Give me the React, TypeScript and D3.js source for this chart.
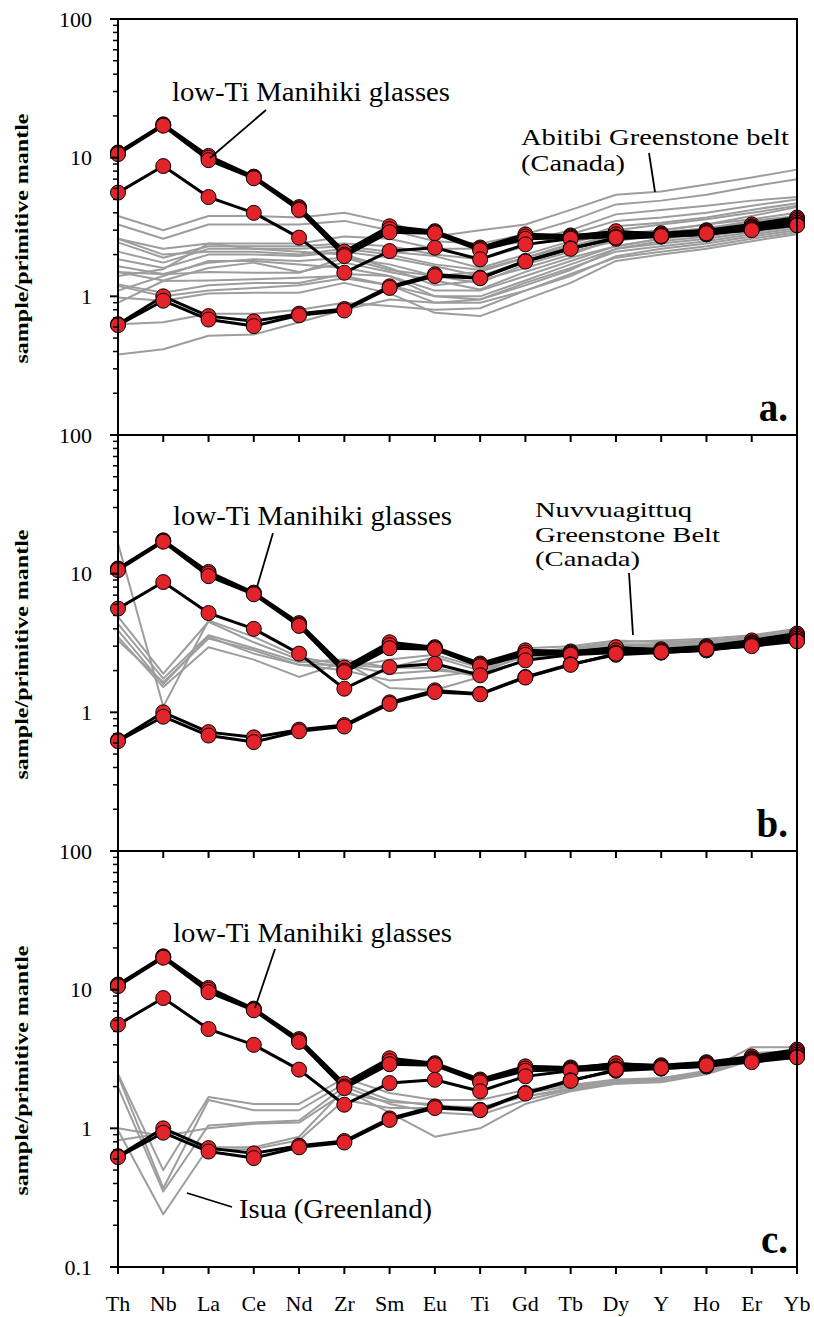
import React from "react";
import * as d3 from "d3";

// ---------- data ----------
const elements = ["Th", "Nb", "La", "Ce", "Nd", "Zr", "Sm", "Eu", "Ti", "Gd", "Tb", "Dy", "Y", "Ho", "Er", "Yb"];

// low-Ti Manihiki glasses (same in all panels)
const manihiki1 = [10.9, 17.4, 10.3, 7.3, 4.4, 2.1, 3.2, 2.95, 2.25, 2.8, 2.75, 2.9, 2.85, 3.0, 3.3, 3.7];
const manihiki2 = [10.8, 17.2, 10.0, 7.2, 4.3, 2.0, 3.05, 2.9, 2.2, 2.7, 2.7, 2.95, 2.8, 2.95, 3.2, 3.6];
const manihiki3 = [10.6, 17.0, 9.6, 7.1, 4.2, 1.95, 2.9, 2.85, 2.15, 2.6, 2.65, 2.8, 2.75, 2.9, 3.15, 3.5];
const manihiki4 = [5.6, 8.7, 5.2, 4.0, 2.65, 1.48, 2.12, 2.24, 1.85, 2.37, 2.6, 2.7, 2.7, 2.8, 3.1, 3.4];
const manihiki5 = [0.63, 1.0, 0.72, 0.66, 0.75, 0.81, 1.18, 1.44, 1.36, 1.8, 2.22, 2.6, 2.7, 2.8, 3.05, 3.3];
const manihiki6 = [0.62, 0.93, 0.68, 0.61, 0.73, 0.79, 1.15, 1.4, 1.35, 1.78, 2.2, 2.65, 2.72, 2.85, 3.0, 3.25];
const manihiki = [manihiki1, manihiki2, manihiki3, manihiki4, manihiki5, manihiki6];

// Abitibi Greenstone belt (Canada)
const abitibi1 = [3.8, 3.0, 3.8, 3.8, 3.7, 4.0, 3.4, 2.7, 3.0, 3.3, 4.2, 5.4, 5.7, 6.4, 7.2, 8.2];
const abitibi2 = [3.3, 2.6, 3.3, 3.3, 3.3, 3.5, 3.0, 2.5, 2.4, 2.8, 3.5, 4.6, 4.9, 5.4, 6.2, 7.0];
const abitibi3 = [2.6, 2.2, 2.4, 2.4, 2.4, 2.7, 2.6, 2.2, 2.2, 2.5, 3.0, 3.9, 4.2, 4.5, 4.9, 5.2];
const abitibi4 = [2.45, 1.9, 2.3, 2.3, 2.3, 2.4, 2.3, 2.0, 1.85, 2.3, 2.8, 3.5, 3.7, 4.0, 4.5, 5.0];
const abitibi5 = [2.1, 1.75, 2.2, 2.2, 2.2, 2.3, 2.1, 1.95, 1.6, 2.0, 2.5, 3.2, 3.4, 3.7, 4.2, 4.7];
const abitibi6 = [1.85, 1.6, 2.0, 2.0, 1.95, 2.1, 1.9, 1.65, 1.4, 1.8, 2.3, 2.7, 3.0, 3.3, 3.8, 4.4];
const abitibi7 = [1.65, 1.45, 1.75, 1.85, 1.8, 1.9, 1.7, 1.4, 1.25, 1.7, 2.1, 2.5, 2.8, 3.1, 3.5, 3.8];
const abitibi8 = [1.5, 1.3, 1.6, 1.75, 1.5, 1.75, 1.5, 1.3, 1.12, 1.5, 1.9, 2.3, 2.6, 2.9, 3.2, 3.5];
const abitibi9 = [1.4, 1.57, 2.4, 2.2, 2.1, 2.0, 1.6, 1.2, 1.3, 1.6, 2.0, 2.6, 2.9, 3.1, 3.4, 3.7];
const abitibi10 = [1.22, 1.06, 1.2, 1.25, 1.25, 1.45, 1.4, 1.0, 0.95, 1.2, 1.55, 2.2, 2.5, 2.7, 3.0, 3.3];
const abitibi11 = [1.19, 1.0, 1.1, 1.15, 1.2, 1.35, 1.2, 0.9, 0.9, 1.1, 1.4, 1.95, 2.2, 2.4, 2.7, 3.0];
const abitibi12 = [0.98, 0.93, 1.05, 1.06, 1.06, 1.25, 1.05, 0.76, 0.72, 0.95, 1.25, 1.8, 2.0, 2.2, 2.5, 2.8];
const abitibi13 = [0.9, 1.29, 1.3, 1.33, 1.36, 1.4, 1.2, 1.0, 1.0, 1.3, 1.7, 2.2, 2.4, 2.6, 2.9, 3.2];
const abitibi14 = [0.38, 0.415, 0.52, 0.53, 0.65, 0.8, 0.95, 0.9, 0.95, 1.25, 1.6, 2.1, 2.3, 2.5, 2.8, 3.1];
const abitibi15 = [2.6, 2.0, 2.1, 2.1, 2.0, 2.2, 2.0, 1.7, 1.55, 1.9, 2.4, 3.0, 3.3, 3.6, 4.0, 4.5];
const abitibi16 = [1.5, 1.44, 1.5, 1.48, 1.48, 1.9, 1.55, 1.4, 1.5, 1.9, 2.3, 2.8, 3.0, 3.3, 3.6, 4.0];
const abitibi17 = [0.63, 0.65, 0.75, 0.75, 0.8, 0.9, 0.85, 0.8, 0.82, 1.1, 1.45, 1.9, 2.1, 2.3, 2.6, 2.9];
const abitibi18 = [1.1, 1.4, 1.8, 1.8, 1.7, 1.6, 1.4, 1.1, 1.1, 1.4, 1.8, 2.3, 2.6, 2.8, 3.1, 3.5];
const abitibi = [abitibi1, abitibi2, abitibi3, abitibi4, abitibi5, abitibi6, abitibi7, abitibi8, abitibi9,
  abitibi10, abitibi11, abitibi12, abitibi13, abitibi14, abitibi15, abitibi16, abitibi17, abitibi18];

// Nuvvuagittuq Greenstone Belt (Canada)
const nuvvu1 = [16.5, 1.1, 4.6, 3.5, 2.5, 2.2, 2.1, 2.5, 2.0, 2.7, 2.9, 3.2, 3.3, 3.4, 3.6, 4.0];
const nuvvu2 = [4.9, 1.9, 4.5, 3.2, 2.4, 2.1, 2.4, 2.6, 2.1, 2.9, 3.0, 3.3, 3.2, 3.3, 3.5, 3.9];
const nuvvu3 = [4.35, 1.75, 3.6, 2.9, 2.3, 2.4, 2.1, 2.1, 1.8, 2.4, 2.8, 3.0, 3.1, 3.2, 3.5, 3.8];
const nuvvu4 = [3.9, 1.6, 3.5, 2.65, 2.2, 2.0, 1.7, 1.8, 2.0, 2.5, 2.7, 2.9, 3.0, 3.1, 3.4, 3.7];
const nuvvu5 = [3.5, 1.52, 2.95, 2.4, 1.8, 2.3, 1.5, 1.45, 1.8, 2.4, 2.7, 2.9, 3.0, 3.1, 3.3, 3.6];
const nuvvu6 = [3.3, 1.65, 3.4, 2.8, 2.2, 2.2, 1.9, 2.0, 1.9, 2.6, 2.85, 3.1, 3.1, 3.2, 3.5, 3.9];
const nuvvuagittuq = [nuvvu1, nuvvu2, nuvvu3, nuvvu4, nuvvu5, nuvvu6];

// Isua (Greenland)
const isua1 = [2.47, 0.5, 1.68, 1.5, 1.5, 2.3, 1.8, 1.6, 1.6, 1.9, 2.05, 2.25, 2.3, 2.6, 3.85, 3.85];
const isua2 = [2.4, 0.37, 1.6, 1.35, 1.35, 2.1, 1.6, 1.45, 1.42, 1.7, 1.95, 2.2, 2.25, 2.5, 3.45, 3.3];
const isua3 = [1.98, 0.35, 1.05, 1.1, 1.14, 2.0, 1.5, 1.3, 1.25, 1.6, 1.9, 2.1, 2.15, 2.45, 3.1, 3.2];
const isua4 = [0.97, 0.24, 0.73, 0.73, 0.87, 1.9, 1.3, 0.87, 1.0, 1.5, 1.85, 2.1, 2.2, 2.5, 3.2, 3.3];
const isua5 = [0.82, 0.92, 0.7, 0.71, 0.82, 1.6, 1.4, 1.4, 1.4, 1.7, 1.9, 2.15, 2.2, 2.5, 3.3, 3.4];
const isua6 = [1.0, 0.88, 1.0, 1.08, 1.1, 1.8, 1.55, 1.5, 1.3, 1.8, 2.0, 2.2, 2.3, 2.55, 3.5, 3.6];
const isua = [isua1, isua2, isua3, isua4, isua5, isua6];

const yTicksAB = [100, 10, 1];
const yTicksC = [100, 10, 1, 0.1];

// ---------- layout ----------
const W = 814;
const H = 1317;
const LEFT = 118;
const RIGHT = 797;
const PANEL_H = 416;
const SERIF = "'Liberation Serif','Times New Roman',serif";
const RED = "#e3232a";
const GREY = "#9d9d9d";

type Ann = { lines: string[]; widths: number[]; fs: number; x: number; y: number; lh: number; leader: [number, number, number, number] };
type Panel = { top: number; grey: number[][]; letter: string; ticks: number[]; anns: Ann[] };

const panels: Panel[] = [
  {
    top: 19, grey: abitibi, letter: "a.", ticks: yTicksAB,
    anns: [
      { lines: ["low-Ti Manihiki glasses"], widths: [278], fs: 28, x: 172, y: 101, lh: 0, leader: [266, 110, 210, 158] },
      { lines: ["Abitibi Greenstone belt", "(Canada)"], widths: [268, 104], fs: 23, x: 521, y: 145, lh: 25.5, leader: [649, 153, 655, 192] },
    ],
  },
  {
    top: 435, grey: nuvvuagittuq, letter: "b.", ticks: yTicksAB,
    anns: [
      { lines: ["low-Ti Manihiki glasses"], widths: [279], fs: 28, x: 173, y: 525, lh: 0, leader: [273, 533, 257, 587] },
      { lines: ["Nuvvuagittuq", "Greenstone Belt", "(Canada)"], widths: [157, 185, 105], fs: 22, x: 535, y: 517, lh: 24.5, leader: [629, 573, 633, 635] },
    ],
  },
  {
    top: 851, grey: isua, letter: "c.", ticks: yTicksC,
    anns: [
      { lines: ["low-Ti Manihiki glasses"], widths: [279], fs: 28, x: 173, y: 942, lh: 0, leader: [275, 949, 255, 1008] },
      { lines: ["Isua (Greenland)"], widths: [193], fs: 28, x: 239, y: 1218, lh: 0, leader: [232, 1207, 187, 1193] },
    ],
  },
];

const fmt = (v: number) => (v >= 1 ? String(v) : "0.1");

export default function App() {
  const x = d3.scalePoint<string>().domain(elements).range([LEFT, RIGHT]).padding(0);
  const minorVals: number[] = [];
  for (let e = -1; e <= 1; e++) for (let k = 2; k <= 9; k++) minorVals.push(k * Math.pow(10, e));

  return (
    <svg width={W} height={H} style={{ position: "absolute", left: 0, top: 0, background: "#fff" }}
      fontFamily={SERIF}>
      <rect x={0} y={0} width={W} height={H} fill="#fff" />
      {panels.map((p, pi) => {
        const bottom = p.top + PANEL_H;
        const y = d3.scaleLog().domain([0.1, 100]).range([bottom, p.top]);
        const line = d3.line<number>().x((_, i) => x(elements[i]) as number).y((v) => y(v));
        return (
          <g key={pi}>
            {/* grey reference lines */}
            {p.grey.map((s, i) => (
              <path key={"g" + i} d={line(s) || ""} fill="none" stroke={GREY} strokeWidth={2} strokeLinejoin="round" />
            ))}
            {/* Manihiki lines */}
            {manihiki.map((s, i) => (
              <path key={"m" + i} d={line(s) || ""} fill="none" stroke="#000" strokeWidth={3} strokeLinejoin="round" />
            ))}
            {manihiki.map((s, i) => (
              <g key={"mk" + i}>
                {s.map((v, j) => (
                  <circle key={j} cx={x(elements[j]) as number} cy={y(v)} r={7.5} fill={RED} stroke="#000" strokeWidth={1} />
                ))}
              </g>
            ))}
            {/* frame */}
            <rect x={LEFT} y={p.top} width={RIGHT - LEFT} height={PANEL_H} fill="none" stroke="#000" strokeWidth={2} />
            {/* x ticks (down from bottom) */}
            {elements.map((el) => (
              <line key={el} x1={x(el) as number} x2={x(el) as number} y1={bottom} y2={bottom + 7} stroke="#000" strokeWidth={2} />
            ))}
            {/* y ticks */}
            {[100, 10, 1, 0.1].map((v) => (
              <line key={"M" + v} x1={LEFT - 8} x2={LEFT} y1={y(v)} y2={y(v)} stroke="#000" strokeWidth={2} />
            ))}
            {minorVals.map((v) => (
              <line key={"m" + v} x1={LEFT - 5} x2={LEFT} y1={y(v)} y2={y(v)} stroke="#000" strokeWidth={1.5} />
            ))}
            {p.ticks.map((v) => (
              <text key={"t" + v} x={92} y={y(v)} dy="0.35em" textAnchor="end" fontSize={22}>{fmt(v)}</text>
            ))}
            {/* y-axis title */}
            <text transform={`translate(28,${p.top + PANEL_H / 2 + 11.5}) rotate(-90)`} textAnchor="middle"
              fontSize={19} fontWeight="bold" textLength={250} lengthAdjust="spacingAndGlyphs">
              sample/primitive mantle
            </text>
            {/* annotations */}
            {p.anns.map((a, ai) => (
              <g key={"a" + ai}>
                <line x1={a.leader[0]} y1={a.leader[1]} x2={a.leader[2]} y2={a.leader[3]} stroke="#000" strokeWidth={1.8} />
                {a.lines.map((t, li) => (
                  <text key={li} x={a.x} y={a.y + li * a.lh} fontSize={a.fs}
                    textLength={a.widths[li]} lengthAdjust="spacingAndGlyphs">{t}</text>
                ))}
              </g>
            ))}
            {/* panel letter */}
            <text x={788} y={bottom - 14} textAnchor="end" fontSize={39} fontWeight="bold">{p.letter}</text>
          </g>
        );
      })}
      {/* x-axis labels */}
      {elements.map((el) => (
        <text key={el} x={x(el) as number} y={1311} textAnchor="middle" fontSize={22}>{el}</text>
      ))}
    </svg>
  );
}
